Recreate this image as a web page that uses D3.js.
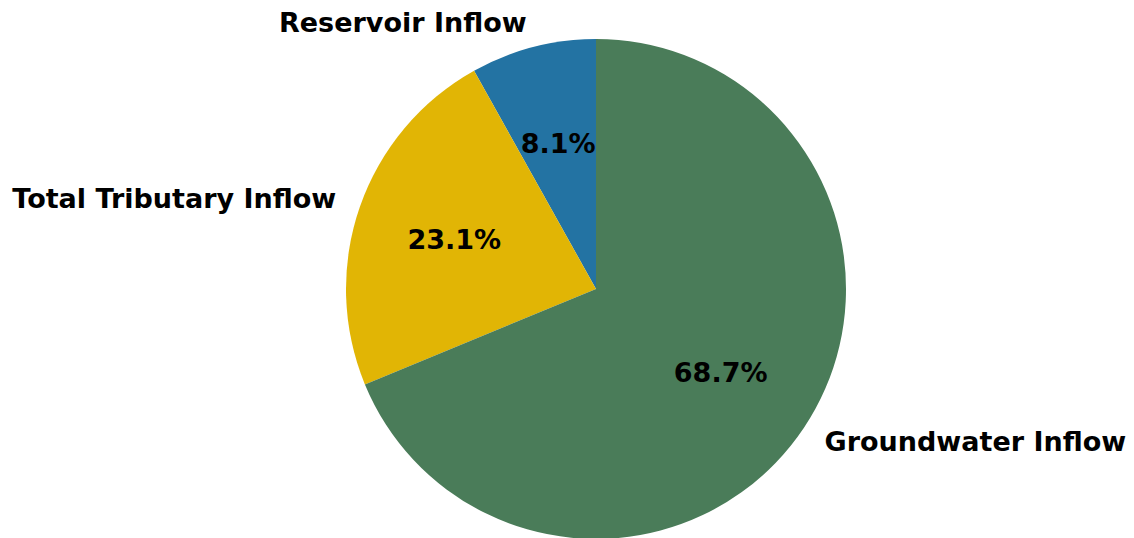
<!DOCTYPE html>
<html>
<head>
<meta charset="utf-8">
<script src="https://cdn.jsdelivr.net/npm/d3@7"></script>
<style>
  html, body { margin: 0; padding: 0; background: #fff; }
  svg { display: block; }
  text { font-family: "DejaVu Sans", sans-serif; font-weight: bold; fill: #000; }
</style>
</head>
<body>
<svg id="chart" width="1134" height="538"></svg>
<script>
// Inflow shares (percent)
const categories = ["Reservoir Inflow", "Total Tributary Inflow", "Groundwater Inflow"];
const shares = [8.1, 23.1, 68.7];
const colors = ["#2373a3", "#e1b505", "#4a7c59"];

const width = 1134, height = 538;
const cx = 596, cy = 289, radius = 250;

const svg = d3.select("#chart");
const g = svg.append("g").attr("transform", `translate(${cx},${cy})`);

// Slices run counter-clockwise from 12 o'clock
const pie = d3.pie().sort(null).value(d => d.value).startAngle(0).endAngle(-2 * Math.PI);
const data = categories.map((c, i) => ({ name: c, value: shares[i], color: colors[i] }));
const arcs = pie(data);

const arc = d3.arc().innerRadius(0).outerRadius(radius);

g.selectAll("path.slice")
  .data(arcs)
  .join("path")
  .attr("class", "slice")
  .attr("d", arc)
  .attr("fill", d => d.data.color);

const mid = d => (d.startAngle + d.endAngle) / 2;

// Percentage labels inside the slices
g.selectAll("text.pct")
  .data(arcs)
  .join("text")
  .attr("class", "pct")
  .attr("x", d => 0.6 * radius * Math.sin(mid(d)))
  .attr("y", d => -0.6 * radius * Math.cos(mid(d)))
  .attr("text-anchor", "middle")
  .attr("dominant-baseline", "central")
  .style("font-size", "27px")
  .text(d => d.data.value.toFixed(1) + "%");

// Category labels outside the pie
g.selectAll("text.cat")
  .data(arcs)
  .join("text")
  .attr("class", "cat")
  .attr("x", d => 1.1 * radius * Math.sin(mid(d)))
  .attr("y", d => -1.1 * radius * Math.cos(mid(d)))
  .attr("text-anchor", d => Math.sin(mid(d)) < 0 ? "end" : "start")
  .attr("dominant-baseline", "central")
  .style("font-size", "27px")
  .text(d => d.data.name);
</script>
</body>
</html>
